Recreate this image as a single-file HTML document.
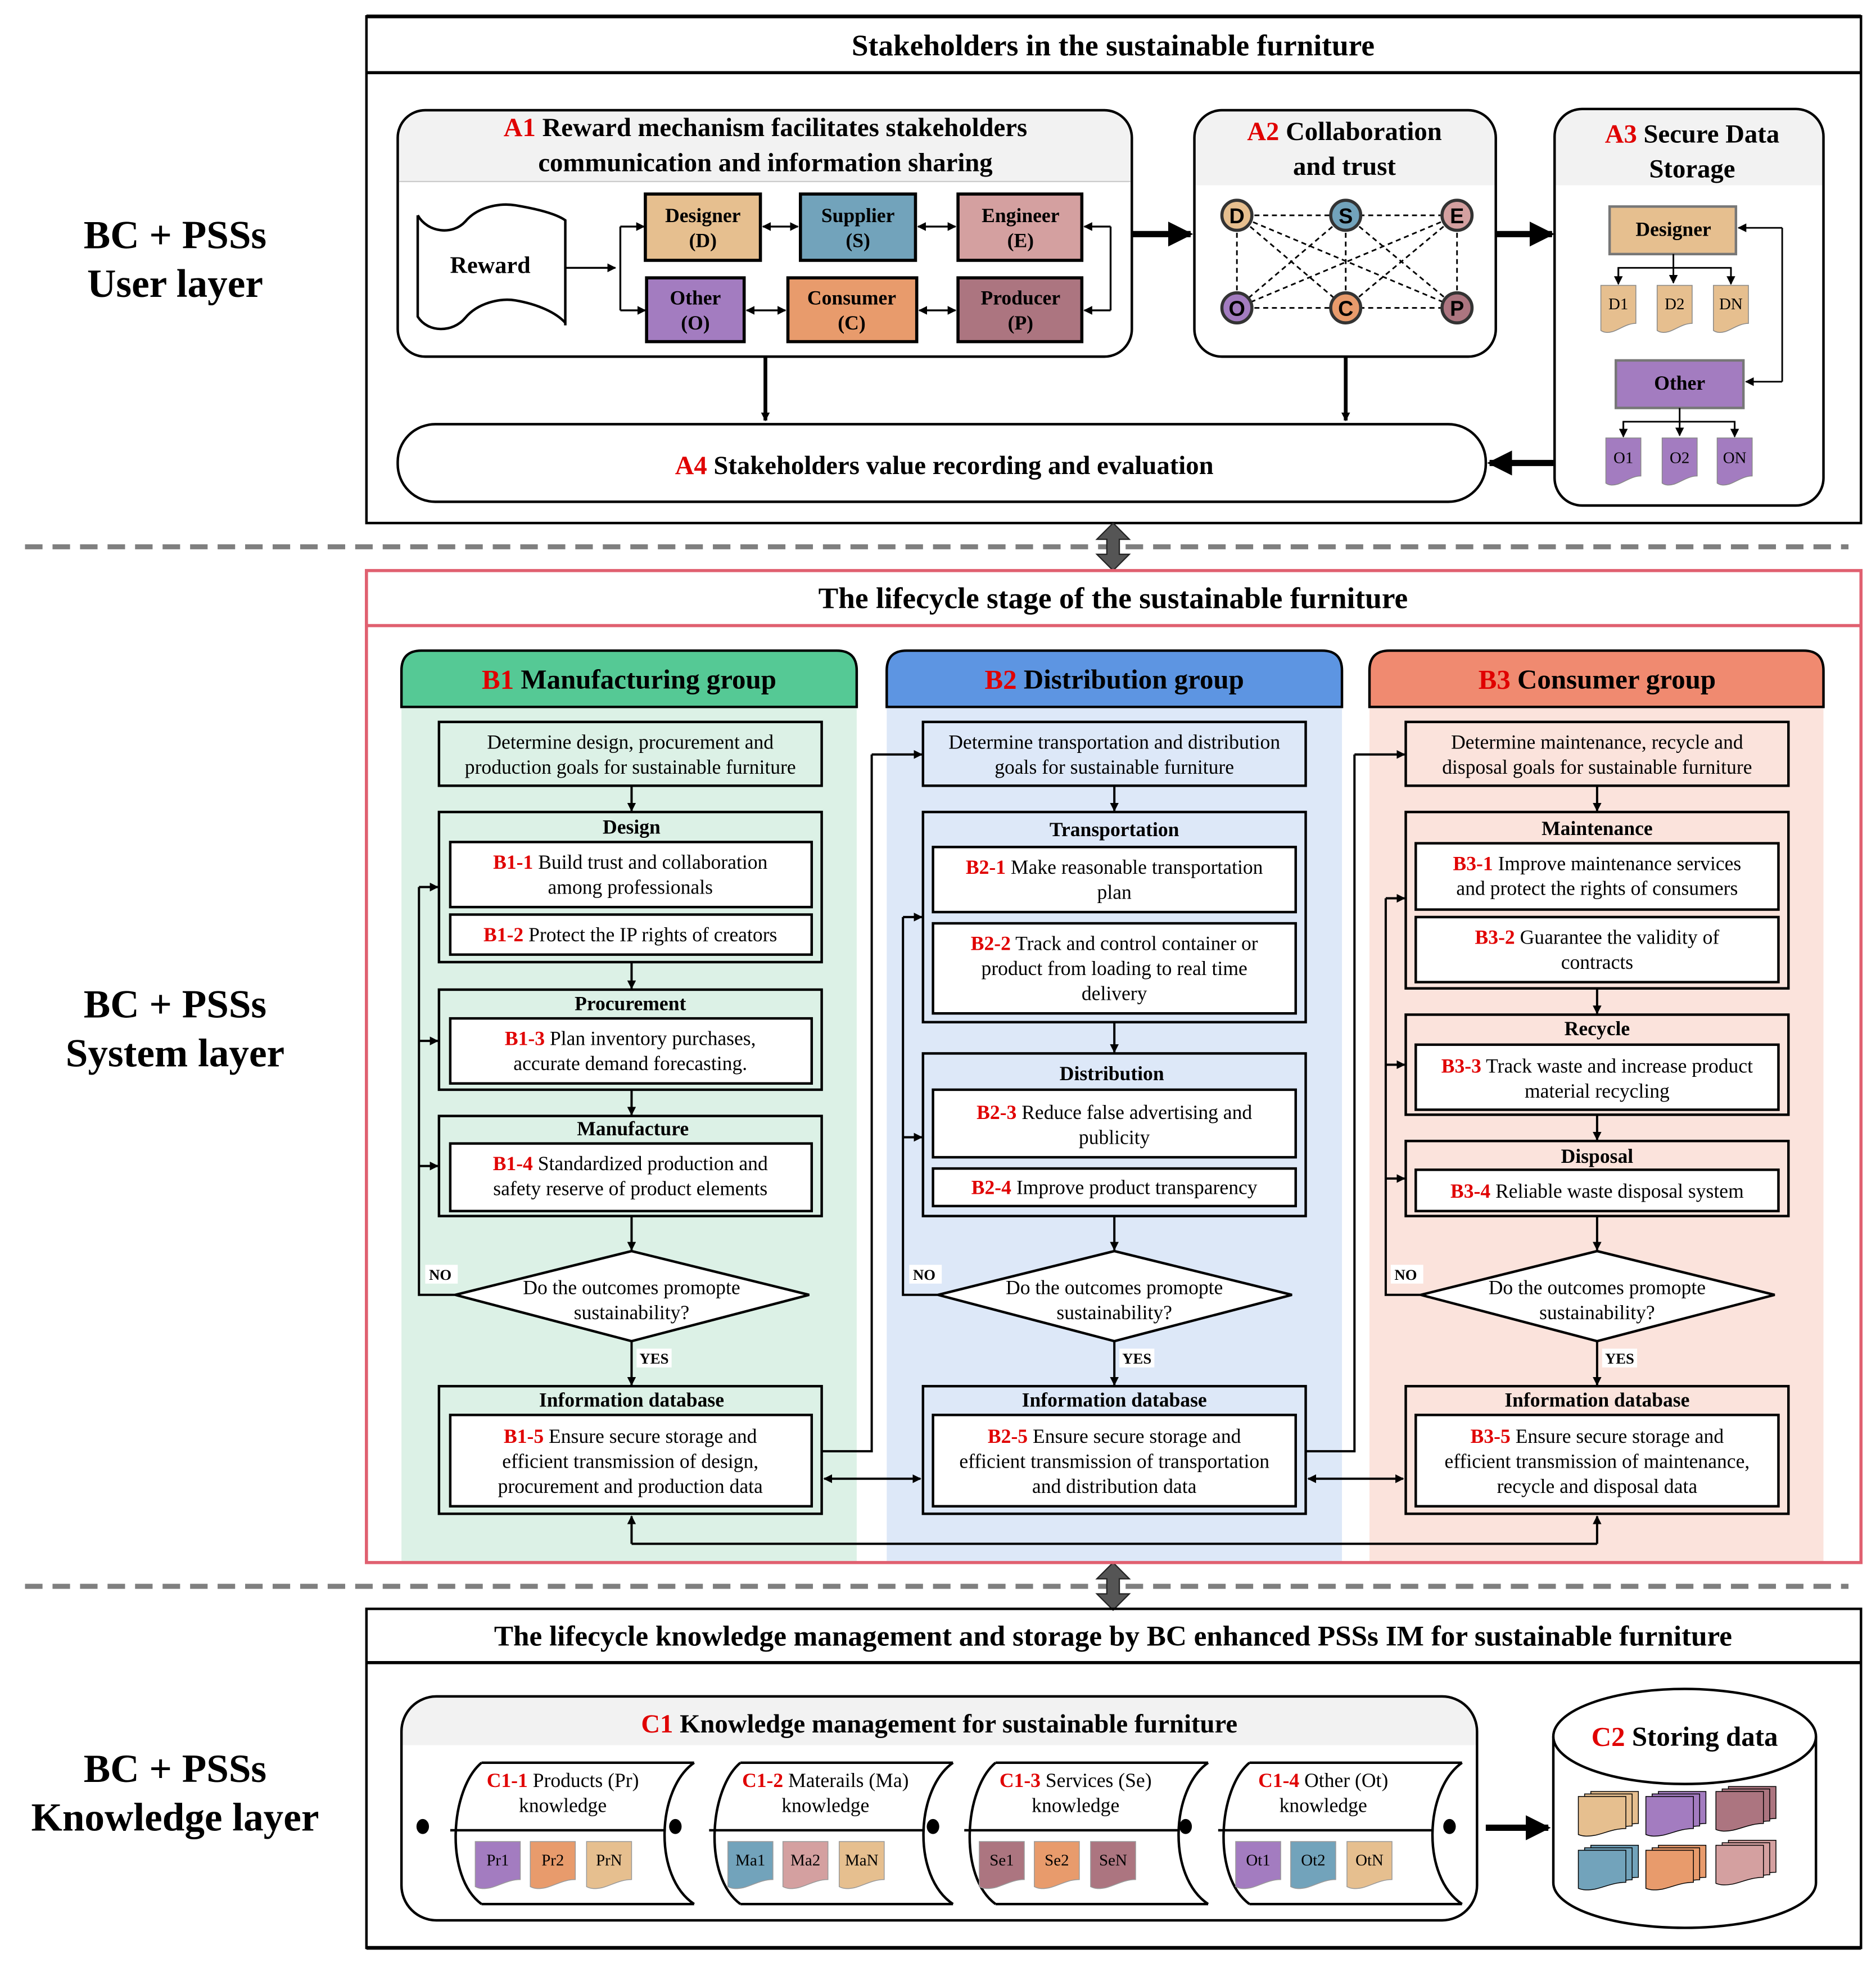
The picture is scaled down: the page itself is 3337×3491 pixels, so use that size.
<!DOCTYPE html>
<html><head><meta charset="utf-8"><style>
html,body{margin:0;padding:0;background:#fff}
svg{display:block}
text{font-family:"Liberation Serif",serif;text-anchor:middle;dominant-baseline:central}
.b{font-weight:bold}
.r{fill:#e00000;font-weight:bold}
.sans{font-family:"Liberation Sans",sans-serif;font-weight:bold}
</style></head><body>
<svg width="3337" height="3491" viewBox="0 0 1500 1569" xmlns="http://www.w3.org/2000/svg">
<defs>
<marker id="ah" viewBox="0 0 10 10" refX="9" refY="5" markerWidth="7" markerHeight="7" markerUnits="userSpaceOnUse" orient="auto-start-reverse"><path d="M0,0L10,5L0,10Z" fill="#000"/></marker>
<marker id="ahb" viewBox="0 0 10 10" refX="9" refY="5" markerWidth="4" markerHeight="4" orient="auto-start-reverse"><path d="M0,0L10,5L0,10Z" fill="#000"/></marker>
<path id="doc" d="M0,0 H1 V0.8 C0.75,0.8 0.55,0.92 0.35,0.97 C0.2,1 0.1,1 0,0.95Z" vector-effect="non-scaling-stroke"/>
</defs>

<g font-size="32">
<text x="140" y="188" class="b">BC + PSSs</text><text x="140" y="227" class="b">User layer</text>
<text x="140" y="803" class="b">BC + PSSs</text><text x="140" y="842" class="b">System layer</text>
<text x="140" y="1414" class="b">BC + PSSs</text><text x="140" y="1453" class="b">Knowledge layer</text>
</g>

<!-- ===== USER LAYER ===== -->
<rect x="293" y="13" width="1195" height="405" fill="#fff" stroke="#000" stroke-width="2"/>
<line x1="293" y1="58" x2="1488" y2="58" stroke="#000" stroke-width="2.5"/>
<line x1="293" y1="13" x2="1488" y2="13" stroke="#000" stroke-width="3"/>
<text x="890" y="36" font-size="24" class="b">Stakeholders in the sustainable furniture</text>

<path d="M318,145 V110 Q318,88 340,88 H883 Q905,88 905,110 V145 Z" fill="#f2f2f2"/>
<rect x="318" y="88" width="587" height="197" rx="22" fill="none" stroke="#000" stroke-width="2"/>
<line x1="319" y1="145" x2="904" y2="145" stroke="#ccc" stroke-width="1"/>
<text x="612" y="102" font-size="21" class="b"><tspan class="r">A1</tspan> Reward mechanism facilitates stakeholders</text>
<text x="612" y="130" font-size="21" class="b">communication and information sharing</text>
<path d="M334,172 V253 C342,266 362,266 372,254 C382,242 400,238 412,240 C430,243 445,250 452,258 M334,172 C342,186 362,188 372,177 C382,165 400,162 412,164 C430,167 445,171 452,176 V260" fill="none" stroke="#000" stroke-width="2"/>
<text x="392" y="212" font-size="19" class="b">Reward</text>
<line x1="452" y1="214" x2="492" y2="214" stroke="#000" stroke-width="1.5" marker-end="url(#ah)"/>
<line x1="496" y1="181" x2="496" y2="248" stroke="#000" stroke-width="1.5"/>
<line x1="496" y1="181" x2="515" y2="181" stroke="#000" stroke-width="1.5" marker-end="url(#ah)"/>
<line x1="496" y1="248" x2="516" y2="248" stroke="#000" stroke-width="1.5" marker-end="url(#ah)"/>
<g stroke="#000" stroke-width="2.5">
<rect x="516" y="155" width="92" height="53" fill="#e6bf8f"/>
<rect x="640" y="155" width="92" height="53" fill="#72a3bb"/>
<rect x="766" y="155" width="99" height="53" fill="#d4a0a0"/>
<rect x="517" y="222" width="78" height="51" fill="#a37cc0"/>
<rect x="630" y="222" width="103" height="51" fill="#e89b6c"/>
<rect x="766" y="222" width="99" height="51" fill="#ac7580"/>
</g>
<g font-size="16">
<text x="562" y="172" class="b">Designer</text><text x="562" y="192" class="b">(D)</text>
<text x="686" y="172" class="b">Supplier</text><text x="686" y="192" class="b">(S)</text>
<text x="816" y="172" class="b">Engineer</text><text x="816" y="192" class="b">(E)</text>
<text x="556" y="238" class="b">Other</text><text x="556" y="258" class="b">(O)</text>
<text x="681" y="238" class="b">Consumer</text><text x="681" y="258" class="b">(C)</text>
<text x="816" y="238" class="b">Producer</text><text x="816" y="258" class="b">(P)</text>
</g>
<g stroke="#000" stroke-width="1.5">
<line x1="610" y1="181" x2="638" y2="181" marker-start="url(#ah)" marker-end="url(#ah)"/>
<line x1="734" y1="181" x2="764" y2="181" marker-start="url(#ah)" marker-end="url(#ah)"/>
<line x1="597" y1="248" x2="628" y2="248" marker-start="url(#ah)" marker-end="url(#ah)"/>
<line x1="735" y1="248" x2="764" y2="248" marker-start="url(#ah)" marker-end="url(#ah)"/>
<line x1="888" y1="181" x2="888" y2="248"/>
<line x1="888" y1="181" x2="867" y2="181" marker-end="url(#ah)"/>
<line x1="888" y1="248" x2="867" y2="248" marker-end="url(#ah)"/>
</g>
<line x1="905" y1="187" x2="952" y2="187" stroke="#000" stroke-width="5" marker-end="url(#ahb)"/>
<line x1="1196" y1="187" x2="1241" y2="187" stroke="#000" stroke-width="5" marker-end="url(#ahb)"/>

<path d="M955,148 V110 Q955,88 977,88 H1174 Q1196,88 1196,110 V148 Z" fill="#f2f2f2"/>
<rect x="955" y="88" width="241" height="197" rx="22" fill="none" stroke="#000" stroke-width="2"/>
<text x="1075" y="105" font-size="21" class="b"><tspan class="r">A2</tspan>  Collaboration</text>
<text x="1075" y="133" font-size="21" class="b">and trust</text>
<g stroke="#000" stroke-width="1.3" stroke-dasharray="4,3">
<line x1="989" y1="172" x2="1165" y2="172"/><line x1="989" y1="246" x2="1165" y2="246"/>
<line x1="989" y1="172" x2="989" y2="246"/><line x1="1076" y1="172" x2="1076" y2="246"/><line x1="1165" y1="172" x2="1165" y2="246"/>
<line x1="989" y1="172" x2="1076" y2="246"/><line x1="989" y1="172" x2="1165" y2="246"/>
<line x1="1076" y1="172" x2="989" y2="246"/><line x1="1076" y1="172" x2="1165" y2="246"/>
<line x1="1165" y1="172" x2="989" y2="246"/><line x1="1165" y1="172" x2="1076" y2="246"/>
</g>
<g stroke="#333" stroke-width="2.5">
<circle cx="989" cy="172" r="12" fill="#e6bf8f"/><circle cx="1076" cy="172" r="12" fill="#72a3bb"/><circle cx="1165" cy="172" r="12" fill="#d4a0a0"/>
<circle cx="989" cy="246" r="12" fill="#a37cc0"/><circle cx="1076" cy="246" r="12" fill="#e89b6c"/><circle cx="1165" cy="246" r="12" fill="#ac7580"/>
</g>
<g font-size="17">
<text x="989" y="173" class="sans">D</text><text x="1076" y="173" class="sans">S</text><text x="1165" y="173" class="sans">E</text>
<text x="989" y="247" class="sans">O</text><text x="1076" y="247" class="sans">C</text><text x="1165" y="247" class="sans">P</text>
</g>

<path d="M1243,148 V109 Q1243,87 1265,87 H1436 Q1458,87 1458,109 V148 Z" fill="#f2f2f2"/>
<rect x="1243" y="87" width="215" height="317" rx="22" fill="none" stroke="#000" stroke-width="2"/>
<text x="1353" y="107" font-size="21" class="b"><tspan class="r">A3</tspan> Secure Data</text>
<text x="1353" y="135" font-size="21" class="b">Storage</text>
<rect x="1287" y="165" width="101" height="38" fill="#e6bf8f" stroke="#777" stroke-width="2"/>
<text x="1338" y="183" font-size="16" class="b">Designer</text>
<rect x="1292" y="288" width="102" height="38" fill="#a37cc0" stroke="#777" stroke-width="2"/>
<text x="1343" y="306" font-size="16" class="b">Other</text>
<g stroke="#000" stroke-width="1.3" fill="none">
<line x1="1338" y1="203" x2="1338" y2="226" marker-end="url(#ah)"/>
<polyline points="1294,226 1294,214 1384,214 1384,226"/>
<line x1="1294" y1="214" x2="1294" y2="227" marker-end="url(#ah)"/>
<line x1="1384" y1="214" x2="1384" y2="227" marker-end="url(#ah)"/>
<line x1="1343" y1="326" x2="1343" y2="348" marker-end="url(#ah)"/>
<polyline points="1298,348 1298,337 1387,337 1387,348"/>
<line x1="1298" y1="337" x2="1298" y2="349" marker-end="url(#ah)"/>
<line x1="1387" y1="337" x2="1387" y2="349" marker-end="url(#ah)"/>
<polyline points="1425,182 1425,305"/>
<line x1="1425" y1="182" x2="1390" y2="182" marker-end="url(#ah)"/>
<line x1="1425" y1="305" x2="1396" y2="305" marker-end="url(#ah)"/>
</g>
<g stroke="#888" stroke-width="1.5">
<use href="#doc" transform="translate(1280,228) scale(28,38)" fill="#e6bf8f"/>
<use href="#doc" transform="translate(1325,228) scale(28,38)" fill="#e6bf8f"/>
<use href="#doc" transform="translate(1370,228) scale(28,38)" fill="#e6bf8f"/>
<use href="#doc" transform="translate(1284,350) scale(28,38)" fill="#a37cc0"/>
<use href="#doc" transform="translate(1329,350) scale(28,38)" fill="#a37cc0"/>
<use href="#doc" transform="translate(1373,350) scale(28,38)" fill="#a37cc0"/>
</g>
<g font-size="13"><text x="1294" y="243">D1</text><text x="1339" y="243">D2</text><text x="1384" y="243">DN</text>
<text x="1298" y="366">O1</text><text x="1343" y="366">O2</text><text x="1387" y="366">ON</text></g>

<rect x="318" y="339" width="870" height="62" rx="30" fill="#fff" stroke="#000" stroke-width="2"/>
<text x="755" y="372" font-size="21" class="b"><tspan class="r">A4</tspan> Stakeholders value recording and evaluation</text>
<line x1="612" y1="285" x2="612" y2="336" stroke="#000" stroke-width="3" marker-end="url(#ah)"/>
<line x1="1076" y1="285" x2="1076" y2="336" stroke="#000" stroke-width="3" marker-end="url(#ah)"/>
<line x1="1242" y1="370" x2="1191" y2="370" stroke="#000" stroke-width="5" marker-end="url(#ahb)"/>

<line x1="20" y1="437" x2="1478" y2="437" stroke="#7f7f7f" stroke-width="4" stroke-dasharray="14,8"/>
<line x1="20" y1="1268" x2="1478" y2="1268" stroke="#7f7f7f" stroke-width="4" stroke-dasharray="14,8"/>
<g fill="#555" stroke="#222" stroke-width="1">
<path d="M890,418 L903,431 L895,431 L895,443 L903,443 L890,456 L877,443 L885,443 L885,431 L877,431Z"/>
<path d="M890,1249 L903,1262 L895,1262 L895,1274 L903,1274 L890,1287 L877,1274 L885,1274 L885,1262 L877,1262Z"/>
</g>

<!-- ===== SYSTEM LAYER ===== -->
<rect x="321" y="565" width="364" height="684" fill="#dcf1e6"/>
<rect x="709" y="565" width="364" height="684" fill="#dde8f8"/>
<rect x="1095" y="565" width="363" height="684" fill="#fbe3dc"/>
<path d="M321,565 V536 Q321,520 337,520 H669 Q685,520 685,536 V565Z" fill="#55c995" stroke="#000" stroke-width="2"/>
<path d="M709,565 V536 Q709,520 725,520 H1057 Q1073,520 1073,536 V565Z" fill="#5d95e2" stroke="#000" stroke-width="2"/>
<path d="M1095,565 V536 Q1095,520 1111,520 H1442 Q1458,520 1458,536 V565Z" fill="#f08a70" stroke="#000" stroke-width="2"/>
<text x="503" y="543" font-size="22" class="b"><tspan class="r">B1</tspan> Manufacturing group</text>
<text x="891" y="543" font-size="22" class="b"><tspan class="r">B2</tspan> Distribution group</text>
<text x="1277" y="543" font-size="22" class="b"><tspan class="r">B3</tspan> Consumer group</text>
<rect x="293" y="456" width="1195" height="793" fill="none" stroke="#e06070" stroke-width="2.5"/>
<line x1="293" y1="500" x2="1488" y2="500" stroke="#e06070" stroke-width="2.5"/>
<text x="890" y="478" font-size="24" class="b">The lifecycle stage of the sustainable furniture</text>

<g fill="none" stroke="#000" stroke-width="2">
<rect x="351" y="577" width="306" height="51"/>
<rect x="351" y="649" width="306" height="120"/>
<rect x="351" y="791" width="306" height="80"/>
<rect x="351" y="892" width="306" height="80"/>
<rect x="351" y="1108" width="306" height="102"/>
<rect x="738" y="577" width="306" height="51"/>
<rect x="738" y="649" width="306" height="168"/>
<rect x="738" y="842" width="306" height="130"/>
<rect x="738" y="1108" width="306" height="102"/>
<rect x="1124" y="577" width="306" height="51"/>
<rect x="1124" y="649" width="306" height="141"/>
<rect x="1124" y="811" width="306" height="80"/>
<rect x="1124" y="912" width="306" height="60"/>
<rect x="1124" y="1108" width="306" height="102"/>
</g>
<g fill="#fff" stroke="#000" stroke-width="2">
<rect x="360" y="673" width="289" height="52"/><rect x="360" y="731" width="289" height="32"/>
<rect x="360" y="814" width="289" height="52"/><rect x="360" y="914" width="289" height="54"/>
<rect x="360" y="1131" width="289" height="73"/>
<rect x="746" y="677" width="290" height="52"/><rect x="746" y="738" width="290" height="72"/>
<rect x="746" y="871" width="290" height="54"/><rect x="746" y="934" width="290" height="30"/>
<rect x="746" y="1131" width="290" height="73"/>
<rect x="1132" y="674" width="290" height="53"/><rect x="1132" y="733" width="290" height="52"/>
<rect x="1132" y="835" width="290" height="52"/><rect x="1132" y="935" width="290" height="33"/>
<rect x="1132" y="1131" width="290" height="73"/>
<polygon points="364,1035 505,1000 647,1035 505,1072"/>
<polygon points="750,1035 891,1000 1033,1035 891,1072"/>
<polygon points="1136,1035 1277,1000 1419,1035 1277,1072"/>
</g>
<g stroke="#000" stroke-width="1.8" fill="none">
<line x1="505" y1="628" x2="505" y2="648" marker-end="url(#ah)"/><line x1="505" y1="769" x2="505" y2="790" marker-end="url(#ah)"/>
<line x1="505" y1="871" x2="505" y2="891" marker-end="url(#ah)"/><line x1="505" y1="972" x2="505" y2="999" marker-end="url(#ah)"/>
<line x1="505" y1="1072" x2="505" y2="1107" marker-end="url(#ah)"/>
<polyline points="364,1035 335,1035 335,709"/>
<line x1="335" y1="709" x2="350" y2="709" marker-end="url(#ah)"/><line x1="335" y1="832" x2="350" y2="832" marker-end="url(#ah)"/><line x1="335" y1="932" x2="350" y2="932" marker-end="url(#ah)"/>
<line x1="891" y1="628" x2="891" y2="648" marker-end="url(#ah)"/><line x1="891" y1="817" x2="891" y2="841" marker-end="url(#ah)"/>
<line x1="891" y1="972" x2="891" y2="999" marker-end="url(#ah)"/><line x1="891" y1="1072" x2="891" y2="1107" marker-end="url(#ah)"/>
<polyline points="750,1035 722,1035 722,733"/>
<line x1="722" y1="733" x2="737" y2="733" marker-end="url(#ah)"/><line x1="722" y1="909" x2="737" y2="909" marker-end="url(#ah)"/>
<line x1="1277" y1="628" x2="1277" y2="648" marker-end="url(#ah)"/><line x1="1277" y1="790" x2="1277" y2="810" marker-end="url(#ah)"/>
<line x1="1277" y1="891" x2="1277" y2="911" marker-end="url(#ah)"/><line x1="1277" y1="972" x2="1277" y2="999" marker-end="url(#ah)"/>
<line x1="1277" y1="1072" x2="1277" y2="1107" marker-end="url(#ah)"/>
<polyline points="1136,1035 1108,1035 1108,718"/>
<line x1="1108" y1="718" x2="1123" y2="718" marker-end="url(#ah)"/><line x1="1108" y1="851" x2="1123" y2="851" marker-end="url(#ah)"/><line x1="1108" y1="942" x2="1123" y2="942" marker-end="url(#ah)"/>
<polyline points="657,1160 697,1160 697,603"/><line x1="697" y1="603" x2="737" y2="603" marker-end="url(#ah)"/>
<polyline points="1044,1160 1083,1160 1083,603"/><line x1="1083" y1="603" x2="1123" y2="603" marker-end="url(#ah)"/>
<line x1="659" y1="1182" x2="736" y2="1182" marker-start="url(#ah)" marker-end="url(#ah)"/>
<line x1="1046" y1="1182" x2="1122" y2="1182" marker-start="url(#ah)" marker-end="url(#ah)"/>
<polyline points="505,1234 1277,1234"/>
<line x1="505" y1="1234" x2="505" y2="1212" marker-end="url(#ah)"/><line x1="1277" y1="1234" x2="1277" y2="1212" marker-end="url(#ah)"/>
</g>
<g font-size="12">
<rect x="340" y="1011" width="26" height="15" fill="#fff"/><text x="352" y="1019" class="b">NO</text>
<rect x="727" y="1011" width="26" height="15" fill="#fff"/><text x="739" y="1019" class="b">NO</text>
<rect x="1112" y="1011" width="26" height="15" fill="#fff"/><text x="1124" y="1019" class="b">NO</text>
<rect x="509" y="1078" width="28" height="15" fill="#fff"/><text x="523" y="1086" class="b">YES</text>
<rect x="895" y="1078" width="28" height="15" fill="#fff"/><text x="909" y="1086" class="b">YES</text>
<rect x="1281" y="1078" width="28" height="15" fill="#fff"/><text x="1295" y="1086" class="b">YES</text>
</g>
<g font-size="16">
<text x="504" y="593">Determine design, procurement and</text><text x="504" y="613">production goals for sustainable furniture</text>
<text x="505" y="661" class="b">Design</text>
<text x="504" y="689"><tspan class="r">B1-1</tspan> Build trust and collaboration</text><text x="504" y="709">among professionals</text>
<text x="504" y="747"><tspan class="r">B1-2</tspan> Protect the IP rights of creators</text>
<text x="504" y="802" class="b">Procurement</text>
<text x="504" y="830"><tspan class="r">B1-3</tspan> Plan inventory purchases,</text><text x="504" y="850">accurate demand forecasting.</text>
<text x="506" y="902" class="b">Manufacture</text>
<text x="504" y="930"><tspan class="r">B1-4</tspan> Standardized production and</text><text x="504" y="950">safety reserve of product elements</text>
<text x="505" y="1029">Do the outcomes promopte</text><text x="505" y="1049">sustainability?</text>
<text x="505" y="1119" class="b">Information database</text>
<text x="504" y="1148"><tspan class="r">B1-5</tspan> Ensure secure storage and</text><text x="504" y="1168">efficient transmission of design,</text><text x="504" y="1188">procurement and production data</text>
<text x="891" y="593">Determine transportation and distribution</text><text x="891" y="613">goals for sustainable furniture</text>
<text x="891" y="663" class="b">Transportation</text>
<text x="891" y="693"><tspan class="r">B2-1</tspan> Make reasonable transportation</text><text x="891" y="713">plan</text>
<text x="891" y="754"><tspan class="r">B2-2</tspan> Track and control container or</text><text x="891" y="774">product from loading to real time</text><text x="891" y="794">delivery</text>
<text x="889" y="858" class="b">Distribution</text>
<text x="891" y="889"><tspan class="r">B2-3</tspan> Reduce false advertising and</text><text x="891" y="909">publicity</text>
<text x="891" y="949"><tspan class="r">B2-4</tspan> Improve product transparency</text>
<text x="891" y="1029">Do the outcomes promopte</text><text x="891" y="1049">sustainability?</text>
<text x="891" y="1119" class="b">Information database</text>
<text x="891" y="1148"><tspan class="r">B2-5</tspan> Ensure secure storage and</text><text x="891" y="1168">efficient transmission of transportation</text><text x="891" y="1188">and distribution data</text>
<text x="1277" y="593">Determine maintenance, recycle and</text><text x="1277" y="613">disposal goals for sustainable furniture</text>
<text x="1277" y="662" class="b">Maintenance</text>
<text x="1277" y="690"><tspan class="r">B3-1</tspan> Improve  maintenance services</text><text x="1277" y="710">and protect the rights of consumers</text>
<text x="1277" y="749"><tspan class="r">B3-2</tspan> Guarantee the validity of</text><text x="1277" y="769">contracts</text>
<text x="1277" y="822" class="b">Recycle</text>
<text x="1277" y="852"><tspan class="r">B3-3</tspan> Track waste and increase product</text><text x="1277" y="872">material recycling</text>
<text x="1277" y="924" class="b">Disposal</text>
<text x="1277" y="952"><tspan class="r">B3-4</tspan> Reliable waste disposal system</text>
<text x="1277" y="1029">Do the outcomes promopte</text><text x="1277" y="1049">sustainability?</text>
<text x="1277" y="1119" class="b">Information database</text>
<text x="1277" y="1148"><tspan class="r">B3-5</tspan> Ensure secure storage and</text><text x="1277" y="1168">efficient transmission of maintenance,</text><text x="1277" y="1188">recycle and disposal data</text>
</g>

<!-- ===== KNOWLEDGE LAYER ===== -->
<rect x="293" y="1286" width="1195" height="271" fill="none" stroke="#000" stroke-width="2"/>
<line x1="293" y1="1329" x2="1488" y2="1329" stroke="#000" stroke-width="2.5"/>
<line x1="293" y1="1557" x2="1488" y2="1557" stroke="#000" stroke-width="3"/>
<text x="890" y="1308" font-size="23" class="b">The lifecycle knowledge management and storage by BC enhanced PSSs IM for sustainable furniture</text>

<path d="M321,1395 V1384 Q321,1356 349,1356 H1153 Q1181,1356 1181,1384 V1395Z" fill="#f2f2f2"/>
<rect x="321" y="1356" width="860" height="179" rx="28" fill="none" stroke="#000" stroke-width="2"/>
<text x="751" y="1378" font-size="21" class="b"><tspan class="r">C1</tspan> Knowledge management for sustainable furniture</text>

<g fill="none" stroke="#000" stroke-width="2">
<path d="M385,1409 H555 M385,1522 H555 M385,1409 C360,1430 355,1500 385,1522 M555,1409 C525,1430 522,1500 555,1522 M360,1463 H532" />
<path d="M592,1409 H762 M592,1522 H762 M592,1409 C567,1430 562,1500 592,1522 M762,1409 C732,1430 729,1500 762,1522 M567,1463 H739" />
<path d="M796,1409 H966 M796,1522 H966 M796,1409 C771,1430 766,1500 796,1522 M966,1409 C936,1430 933,1500 966,1522 M771,1463 H943" />
<path d="M999,1409 H1169 M999,1522 H1169 M999,1409 C974,1430 969,1500 999,1522 M1169,1409 C1139,1430 1136,1500 1169,1522 M974,1463 H1146" />
</g>
<g fill="#000">
<ellipse cx="338" cy="1460" rx="5" ry="6"/><ellipse cx="540" cy="1460" rx="5" ry="6"/><ellipse cx="746" cy="1460" rx="5" ry="6"/><ellipse cx="948" cy="1460" rx="5" ry="6"/><ellipse cx="1159" cy="1460" rx="5" ry="6"/>
</g>
<g font-size="16">
<text x="450" y="1423"><tspan class="r">C1-1</tspan> Products (Pr)</text><text x="450" y="1443">knowledge</text>
<text x="660" y="1423"><tspan class="r">C1-2</tspan> Materails (Ma)</text><text x="660" y="1443">knowledge</text>
<text x="860" y="1423"><tspan class="r">C1-3</tspan> Services  (Se)</text><text x="860" y="1443">knowledge</text>
<text x="1058" y="1423"><tspan class="r">C1-4</tspan> Other  (Ot)</text><text x="1058" y="1443">knowledge</text>
</g>
<g stroke="#999" stroke-width="1.5">
<use href="#doc" transform="translate(380,1472) scale(36,38)" fill="#a37cc0"/><use href="#doc" transform="translate(424,1472) scale(36,38)" fill="#e89b6c"/><use href="#doc" transform="translate(469,1472) scale(36,38)" fill="#e6bf8f"/>
<use href="#doc" transform="translate(582,1472) scale(36,38)" fill="#72a3bb"/><use href="#doc" transform="translate(626,1472) scale(36,38)" fill="#d4a0a0"/><use href="#doc" transform="translate(671,1472) scale(36,38)" fill="#e6bf8f"/>
<use href="#doc" transform="translate(783,1472) scale(36,38)" fill="#ac7580"/><use href="#doc" transform="translate(827,1472) scale(36,38)" fill="#e89b6c"/><use href="#doc" transform="translate(872,1472) scale(36,38)" fill="#ac7580"/>
<use href="#doc" transform="translate(988,1472) scale(36,38)" fill="#a37cc0"/><use href="#doc" transform="translate(1032,1472) scale(36,38)" fill="#72a3bb"/><use href="#doc" transform="translate(1077,1472) scale(36,38)" fill="#e6bf8f"/>
</g>
<g font-size="13">
<text x="398" y="1487">Pr1</text><text x="442" y="1487">Pr2</text><text x="487" y="1487">PrN</text>
<text x="600" y="1487">Ma1</text><text x="644" y="1487">Ma2</text><text x="689" y="1487">MaN</text>
<text x="801" y="1487">Se1</text><text x="845" y="1487">Se2</text><text x="890" y="1487">SeN</text>
<text x="1006" y="1487">Ot1</text><text x="1050" y="1487">Ot2</text><text x="1095" y="1487">OtN</text>
</g>
<line x1="1188" y1="1461" x2="1238" y2="1461" stroke="#000" stroke-width="5" marker-end="url(#ahb)"/>

<path d="M1242,1388 V1505 A105,36 0 0 0 1452,1505 V1388" fill="#fff" stroke="#000" stroke-width="2"/>
<ellipse cx="1347" cy="1388" rx="105" ry="38" fill="#fff" stroke="#000" stroke-width="2"/>
<text x="1347" y="1388" font-size="22" class="b"><tspan class="r">C2</tspan> Storing data</text>
<g stroke="#000" stroke-width="1.5">
<g transform="translate(1262,1436)"><use href="#doc" transform="translate(10,-4) scale(38,32)" fill="#e6bf8f"/><use href="#doc" transform="translate(5,-2) scale(38,32)" fill="#e6bf8f"/><use href="#doc" transform="scale(38,32)" fill="#e6bf8f"/></g>
<g transform="translate(1316,1436)"><use href="#doc" transform="translate(10,-4) scale(38,32)" fill="#a37cc0"/><use href="#doc" transform="translate(5,-2) scale(38,32)" fill="#a37cc0"/><use href="#doc" transform="scale(38,32)" fill="#a37cc0"/></g>
<g transform="translate(1372,1432)"><use href="#doc" transform="translate(10,-4) scale(38,32)" fill="#ac7580"/><use href="#doc" transform="translate(5,-2) scale(38,32)" fill="#ac7580"/><use href="#doc" transform="scale(38,32)" fill="#ac7580"/></g>
<g transform="translate(1262,1479)"><use href="#doc" transform="translate(10,-4) scale(38,32)" fill="#72a3bb"/><use href="#doc" transform="translate(5,-2) scale(38,32)" fill="#72a3bb"/><use href="#doc" transform="scale(38,32)" fill="#72a3bb"/></g>
<g transform="translate(1316,1479)"><use href="#doc" transform="translate(10,-4) scale(38,32)" fill="#e89b6c"/><use href="#doc" transform="translate(5,-2) scale(38,32)" fill="#e89b6c"/><use href="#doc" transform="scale(38,32)" fill="#e89b6c"/></g>
<g transform="translate(1372,1475)"><use href="#doc" transform="translate(10,-4) scale(38,32)" fill="#d4a0a0"/><use href="#doc" transform="translate(5,-2) scale(38,32)" fill="#d4a0a0"/><use href="#doc" transform="scale(38,32)" fill="#d4a0a0"/></g>
</g>
</svg>
</body></html>
